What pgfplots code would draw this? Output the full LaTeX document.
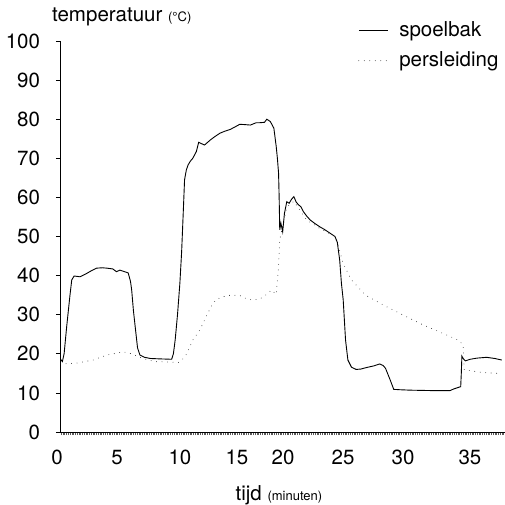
\documentclass[border=0pt]{standalone}
\usepackage{fontspec}
\setmainfont{TeX Gyre Heros}
\usepackage{pgfplots}
\pgfplotsset{compat=1.18}
\begin{document}
\fontsize{20.5}{24}\selectfont
\begin{tikzpicture}
\begin{axis}[
    at={(0,0)}, anchor=south west,
    scale only axis,
    width=445pt, height=391pt,
    xmin=0, xmax=37.87, ymin=0, ymax=100,
    axis lines=left,
    axis line style={-, line width=0.6pt},
    tick align=outside,
    /pgf/number format/assume math mode=true,
    ytick={0,10,...,100},
    ytick style={line width=0.6pt, black},
    major tick length=4pt,
    xtick={0,4.85,10.21,15.06,18.98,24.09,29.19,34.89},
    xticklabels={0\kern6pt,5,10,15,20,25,30,35},
    major x tick style={draw=none},
    minor xtick={0.1,0.25,...,37.8},
    minor tick length=3pt,
    minor x tick style={line width=0.45pt, black!65},
    yticklabel style={xshift=-9pt},
    xticklabel style={yshift=-7pt},
    clip=false,
    legend style={draw=none, fill=none, at={(rel axis cs:0.67,1.05)},
        anchor=north west, row sep=12pt, column sep=11pt, inner sep=0pt,
        nodes={inner sep=0pt}},
    legend cell align=left,
    legend image code/.code={\draw[#1] (0pt,0pt) -- (29pt,0pt);},
]
\addplot[black, line width=0.9pt] coordinates {
(0.05,18.6)(0.2,18.0)(0.35,20)(0.57,27)(0.85,35)(1.0,38.9)(1.2,39.9)(1.7,39.7)
(2.3,40.6)(2.7,41.3)(3.1,41.9)(3.6,42)(4.0,41.9)(4.5,41.7)(4.8,41.0)(5.1,41.4)
(5.5,41.0)(5.8,40.7)(6.0,38.5)(6.1,36.3)(6.25,31)(6.4,26.9)(6.6,21.5)(6.8,19.7)
(7.2,19.1)(7.7,18.8)(8.5,18.7)(9.5,18.6)(9.65,20)(9.8,23.5)(10.0,30)(10.2,38)
(10.35,46)(10.5,57)(10.6,64.5)(10.75,67)(10.9,68.3)(11.1,69.3)(11.3,70)(11.6,71.7)
(11.8,74.1)(12.0,73.8)(12.3,73.4)(12.8,74.7)(13.2,75.6)(13.6,76.4)(14.0,76.9)
(14.5,77.4)(15.0,78.2)(15.3,78.7)(15.8,78.6)(16.2,78.5)(16.7,79.1)(17.0,79.1)
(17.4,79.2)(17.6,80)(17.9,79.4)(18.2,77.7)(18.4,73)(18.5,70)(18.6,66.2)(18.65,60)
(18.7,51.7)(18.8,53.4)(18.95,51.2)(19.1,55.9)(19.3,58.9)(19.5,58.5)(19.7,59.5)
(19.9,60.2)(20.1,58.8)(20.3,58.1)(20.5,57.6)(20.7,56.4)(21.0,55.2)(21.3,54.2)
(21.7,53.3)(22.1,52.5)(22.5,51.8)(23.0,50.8)(23.4,50)(23.6,48.5)(23.8,44)
(23.95,38)(24.1,33.8)(24.3,23.5)(24.5,18.4)(24.8,16.6)(25.2,16)(25.6,16.1)
(26.1,16.5)(26.7,16.9)(27.2,17.4)(27.5,17.0)(27.7,16.3)(27.9,14.8)(28.1,13.3)
(28.4,10.9)(29.0,10.8)(29.8,10.7)(31.5,10.6)(33.2,10.6)(33.5,11.0)(33.8,11.3)
(34.1,11.6)(34.15,15)(34.2,19.4)(34.35,18.6)(34.5,18.2)(34.9,18.6)(35.5,18.9)
(36.3,19.1)(37.0,18.8)(37.6,18.4)
};
\addlegendentry{spoelbak}
\addplot[black!90, line width=0.85pt, line cap=round, dash pattern=on 0pt off 5.5pt] coordinates {
(0.05,17.4)(1.4,17.6)(2.8,18.4)(4.0,19.7)(5.4,20.5)(6.1,20.0)(6.8,19.1)(7.5,18.4)
(8.2,18.0)(10.1,17.8)(10.5,18.8)(10.8,20.1)(11.3,23.5)(11.9,26.1)(12.5,29.9)
(12.9,32.3)(13.3,33.9)(13.9,34.6)(14.5,35)(15.3,34.9)(16.0,33.9)(16.5,33.8)
(17.0,34)(17.5,35)(18.0,36.3)(18.4,35.2)(18.6,42.3)(18.7,49.1)(18.9,52)(19.3,57.5)
(19.9,59)(20.4,56.8)(21.0,54.2)(22.1,52.1)(23.4,50)(23.7,47.4)(24.1,43.1)
(24.8,38.9)(26.0,35)(27.5,32.5)(29.2,29.9)(30.9,27.4)(32.6,25.2)(33.9,23.5)
(34.3,22.3)(34.4,15.9)(36.0,15.2)(37.3,15)
};
\addlegendentry{persleiding}
\node[anchor=base west, inner sep=0pt] at (rel axis cs:0,1) [xshift=-8pt, yshift=19pt]
    {temperatuur {\fontsize{13}{15}\selectfont (°C)}};
\node[anchor=base, inner sep=0pt] at (rel axis cs:0.492,0) [yshift=-68pt]
    {tijd {\fontsize{13}{15}\selectfont (minuten)}};
\end{axis}
\pgfresetboundingbox
\path[use as bounding box] (-60pt,-73pt) rectangle (445pt,432pt);
\end{tikzpicture}
\end{document}
